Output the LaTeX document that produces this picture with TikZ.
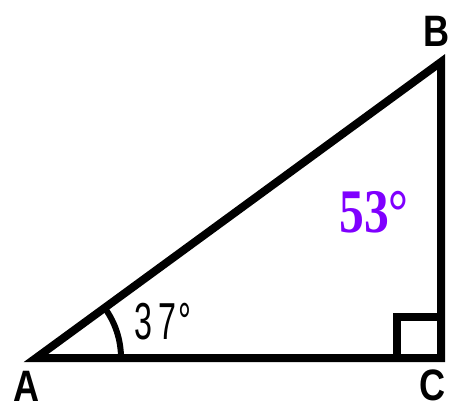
\documentclass[tikz,border=0pt]{standalone}
\usepackage{fontspec}
\setmainfont{Liberation Sans}
\newfontfamily\serifbold{Liberation Serif}
\definecolor{angpurple}{RGB}{127,0,255}
\begin{document}
\begin{tikzpicture}[x=1pt,y=-1pt,
  side/.style={line width=8pt,line join=miter,line cap=butt},
  vlabel/.style={font=\fontsize{44}{44}\selectfont\bfseries,inner sep=0pt,xscale=0.82},
  anglab/.style={inner sep=0pt}]
\useasboundingbox (0,0) rectangle (450,409);
\coordinate (A) at (36,358);
\coordinate (B) at (441,62);
\coordinate (C) at (441,358);
\draw[side] (A) -- (B) -- (C) -- cycle;
% right-angle mark
\coordinate (S1) at (397,358);
\coordinate (S2) at (397,317);
\coordinate (S3) at (441,317);
\draw[side] (S1) -- (S2) -- (S3);
% angle arc at A
\draw[line width=6pt] ([shift={(0:85)}]A) arc[start angle=0,end angle=-36.2,radius=85];
% labels
\node[vlabel] (la) at (27,386) {A};
\node[vlabel] (lb) at (437,31) {B};
\node[vlabel] (lc) at (433,385) {C};
\node[anglab,font=\fontsize{52}{52}\selectfont,xscale=0.62] (a37) at (163,322) {3\kern0.18em7\kern0.08em°};
\node[anglab,font=\serifbold\fontsize{62}{62}\selectfont\bfseries,xscale=0.8,text=angpurple] (a53) at (374,212) {53°};
\end{tikzpicture}
\end{document}
